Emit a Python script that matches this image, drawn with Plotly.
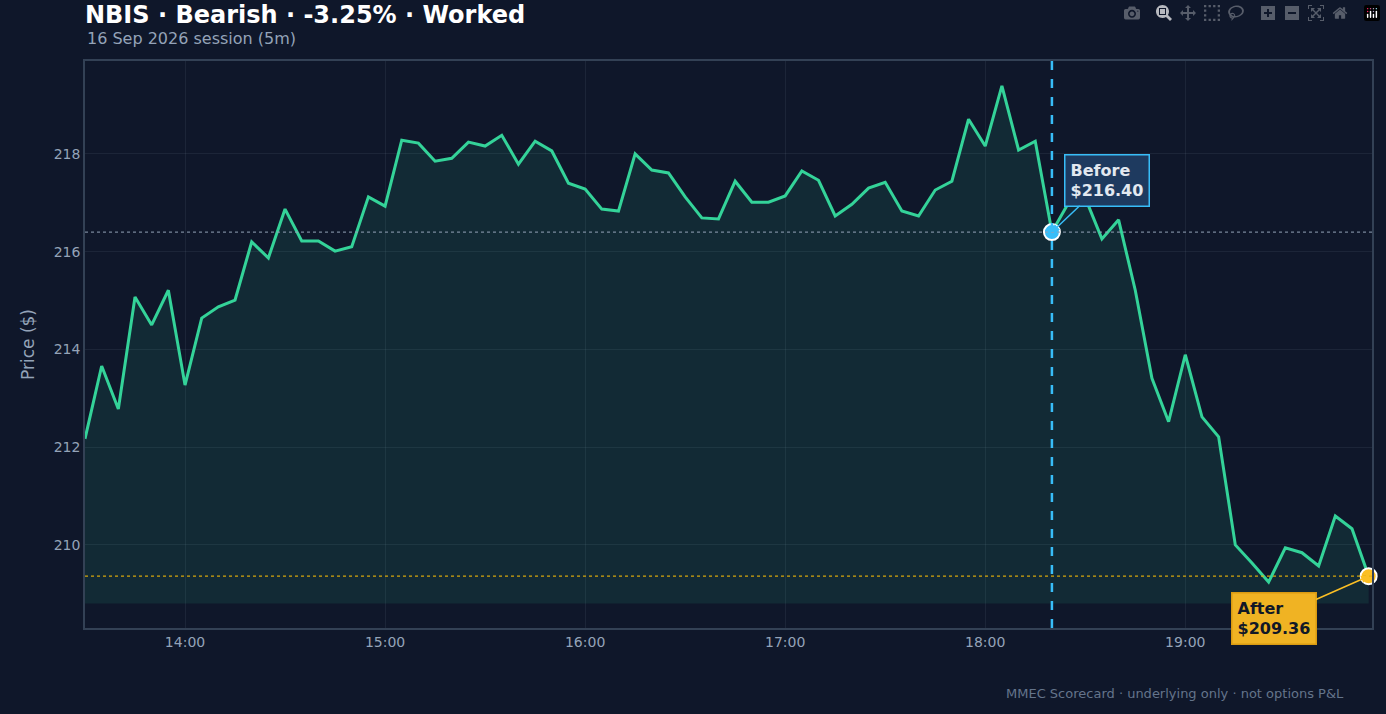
import pandas as pd
import plotly.graph_objects as go

start = "2026-09-16 13:30"
prices = [212.17, 213.66, 212.78, 215.07, 214.5, 215.21, 213.27, 214.64, 214.87, 215.01,
          216.2, 215.87, 216.87, 216.22, 216.22, 216.01, 216.1, 217.12, 216.93, 218.28,
          218.22, 217.85, 217.91, 218.24, 218.16, 218.38, 217.79, 218.26, 218.06, 217.4,
          217.28, 216.87, 216.83, 218.0, 217.67, 217.61, 217.12, 216.69, 216.67, 217.44,
          217.01, 217.01, 217.14, 217.65, 217.46, 216.73, 216.97, 217.3, 217.42, 216.83,
          216.73, 217.26, 217.44, 218.71, 218.16, 219.39, 218.08, 218.26, 216.4, 217.0,
          217.1, 216.26, 216.65, 215.21, 213.41, 212.52, 213.89, 212.62, 212.21, 210.0,
          209.63, 209.24, 209.94, 209.84, 209.57, 210.59, 210.33, 209.36]
times = pd.date_range(start, periods=len(prices), freq="5min")
before_time, before_price = times[58], 216.40
after_time, after_price = times[-1], 209.36
baseline = 208.8

bg = "#0f172a"
fig = go.Figure()
fig.add_trace(go.Scatter(x=times, y=[baseline]*len(times), mode="lines",
                         line=dict(width=0), hoverinfo="skip", showlegend=False))
fig.add_trace(go.Scatter(x=times, y=prices, mode="lines", fill="tonexty",
                         fillcolor="rgba(52,211,153,0.10)",
                         line=dict(color="#34d399", width=3), showlegend=False))
fig.add_hline(y=before_price, line=dict(color="#94a3b8", width=1.2, dash="dot"), opacity=0.8)
fig.add_hline(y=after_price, line=dict(color="#eab308", width=1.2, dash="dot"), opacity=0.9)
fig.add_vline(x=before_time, line=dict(color="#38bdf8", width=2.5, dash="dash"))
fig.add_trace(go.Scatter(x=[before_time], y=[before_price], mode="markers",
                         marker=dict(size=16, color="#38bdf8", line=dict(color="white", width=2)),
                         showlegend=False))
fig.add_trace(go.Scatter(x=[after_time], y=[after_price], mode="markers", cliponaxis=False,
                         marker=dict(size=16, color="#fbbf24", line=dict(color="white", width=2)),
                         showlegend=False))
fig.add_annotation(x=before_time, y=before_price, text="<b>Before<br>$216.40</b>", align="left",
                   ax=55, ay=-52, showarrow=True, arrowhead=2, arrowsize=1, arrowwidth=1.5,
                   arrowcolor="#38bdf8", bgcolor="#1e3a5f", bordercolor="#38bdf8", borderwidth=1.5,
                   borderpad=5, font=dict(color="#e2e8f0", size=16, family="DejaVu Sans"))
fig.add_annotation(x=after_time, y=after_price, text="<b>After<br>$209.36</b>", align="left",
                   ax=-95, ay=42, showarrow=True, arrowhead=2, arrowsize=1, arrowwidth=1.5,
                   arrowcolor="#fbbf24", bgcolor="#f0b323", bordercolor="#d99a12", borderwidth=1.5,
                   borderpad=5, font=dict(color="#111827", size=16, family="DejaVu Sans"))
fig.add_annotation(xref="paper", yref="paper", x=-0.0, y=1.02, xanchor="left", yanchor="bottom",
                   text="16 Sep 2026 session (5m)", showarrow=False,
                   font=dict(color="#94a3b8", size=16, family="DejaVu Sans"))
fig.add_annotation(xref="paper", yref="paper", x=0.98, y=-0.098, xanchor="right", yanchor="top",
                   text="MMEC Scorecard · underlying only · not options P&L", showarrow=False,
                   font=dict(color="#64748b", size=13, family="DejaVu Sans"))
fig.update_layout(
    width=1386, height=714, paper_bgcolor=bg, plot_bgcolor=bg,
    margin=dict(l=85, r=14, t=61, b=86),
    title=dict(text="<b>NBIS · Bearish · -3.25% · Worked</b>", x=0.0613, xanchor="left",
               y=0.992, yanchor="top", font=dict(color="white", size=24, family="DejaVu Sans")),
    font=dict(family="DejaVu Sans", color="#94a3b8"),
    xaxis=dict(range=[times[0], after_time + pd.Timedelta(minutes=1)], tickformat="%H:%M",
               dtick=3600000, gridcolor="rgba(148,163,184,0.1)", showline=True, mirror=True,
               linecolor="#334155", linewidth=1.5, tickfont=dict(size=14), zeroline=False),
    yaxis=dict(range=[208.3, 219.9], dtick=2, gridcolor="rgba(148,163,184,0.1)",
               showline=True, mirror=True, linecolor="#334155", linewidth=1.5,
               tickfont=dict(size=14), zeroline=False,
               title=dict(text="Price ($)", font=dict(size=17))),
)
fig.write_html("out.html")
with open("out.html", encoding="utf-8") as f:
    html = f.read()
html = html.replace("<head>", "<head><style>html,body{margin:0;padding:0;background:#0f172a;}</style>", 1)
with open("out.html", "w", encoding="utf-8") as f:
    f.write(html)
